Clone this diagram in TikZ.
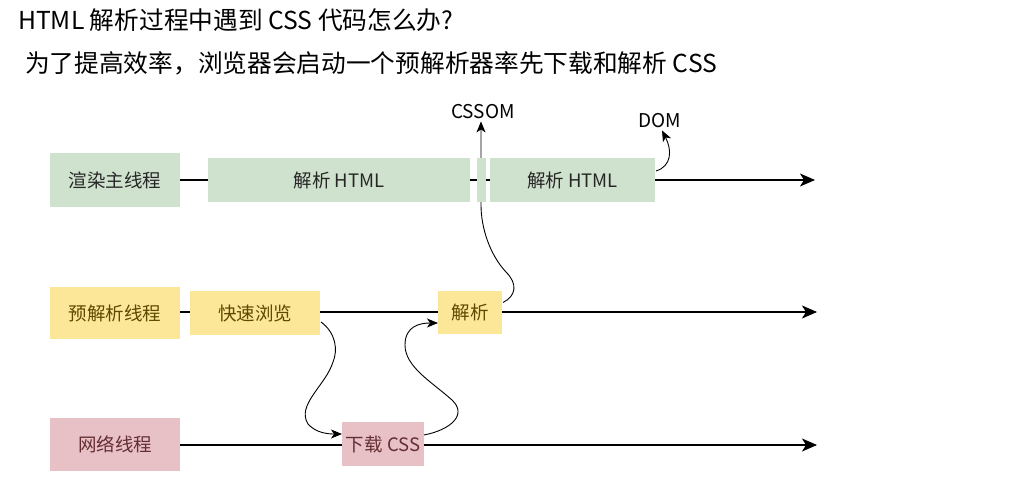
\documentclass[tikz,border=0pt]{standalone}
\usepackage{fontspec}
\setmainfont{Noto Sans CJK SC}
\usetikzlibrary{arrows.meta,backgrounds,calc}
\definecolor{gfill}{RGB}{207,226,205}
\definecolor{yfill}{RGB}{252,230,152}
\definecolor{pfill}{RGB}{232,193,199}
\definecolor{ytext}{RGB}{92,74,0}
\definecolor{ptext}{RGB}{100,45,50}
\begin{document}
\begin{tikzpicture}[x=1pt,y=-1pt,
  box/.style={inner sep=0pt,outer sep=0pt,font=\fontsize{18.5}{21}\selectfont},
  gbox/.style={box,fill=gfill,text=black!85},
  ybox/.style={box,fill=yfill,text=ytext},
  pbox/.style={box,fill=pfill,text=ptext},
  tl/.style={line width=1.1pt,-{Stealth[length=15pt,width=13pt,inset=4pt]}},
  cl/.style={line width=0.9pt,-{Stealth[length=11pt,width=9pt,inset=3pt]}},
  lbl/.style={inner sep=0pt,font=\fontsize{19}{21}\selectfont},
  title/.style={inner sep=0pt,anchor=west,font=\fontsize{24.7}{28}\selectfont}]
\useasboundingbox (0,0) rectangle (1034,500);
% titles
\node[title] (t1) at (18,20) {HTML 解析过程中遇到 CSS 代码怎么办?};
\node[title] (t2) at (25,63) {为了提高效率，浏览器会启动一个预解析器率先下载和解析 CSS};
% row 1
\node[gbox,minimum width=130,minimum height=53] (r1) at (115,180) {渲染主线程};
\node[gbox,minimum width=262,minimum height=43] (h1) at (339,180) {解析 HTML};
\node[gbox,minimum width=9,minimum height=43] (sm) at (481.5,180) {};
\node[gbox,minimum width=165,minimum height=43] (h2) at (572.5,180) {解析 HTML};
\coordinate (e1) at (815,180);
% row 2
\node[ybox,minimum width=130,minimum height=52] (r2) at (115,313) {预解析线程};
\node[ybox,minimum width=130,minimum height=44] (k) at (255,313) {快速浏览};
\node[ybox,minimum width=64,minimum height=43] (p) at (470,312.5) {解析};
\coordinate (e2) at (817,312);
% row 3
\node[pbox,minimum width=130,minimum height=53] (r3) at (115,444.5) {网络线程};
\node[pbox,minimum width=82,minimum height=44] (d) at (383,444) {下载 CSS};
\coordinate (e3) at (817,445);
% labels
\node[lbl] (cssom) at (483,112) {CSSOM};
\node[lbl] (dom) at (660,121) {DOM};
\begin{scope}[on background layer]
\draw[tl] (r1.east) -- (e1);
\draw[tl] (r2.east |- e2) -- (e2);
\draw[tl] (r3.east |- e3) -- (e3);
\draw[cl] ($(p.east)+(1,-10)$) .. controls (516,296) and (518,284) .. (506,272)
   .. controls (490,255) and (481,228) .. (481,205) -- ($(cssom.south)+(-2,2)$);
\end{scope}
\draw[cl] ($(k.east)+(1,9)$) .. controls (336,333) and (338,350) .. (333,362)
   .. controls (326,385) and (296,405) .. (308,424) .. controls (316,433) and (328,434) .. ($(d.west)+(0,-10)$);
\draw[cl] ($(d.east)+(0,-9)$) .. controls (450,430) and (468,415) .. (452,400)
   .. controls (432,382) and (405,367) .. (405,345) .. controls (405,326) and (420,323) .. ($(p.west)+(0,10.5)$);
\draw[cl] ($(h2.east)+(1,-9)$) .. controls (672,166) and (672,150) .. ($(dom.south)+(2,2)$);
\end{tikzpicture}
\end{document}
